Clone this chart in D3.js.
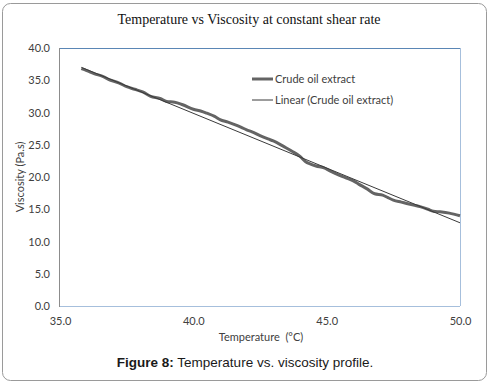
<!DOCTYPE html>
<html>
<head>
<meta charset="utf-8">
<script src="https://cdn.jsdelivr.net/npm/d3@7"></script>
<style>
  body { margin: 0; background: #fff; }
  svg text { fill: #404040; }
</style>
</head>
<body>
<svg id="chart" width="490" height="385"></svg>
<script>
// Crude oil extract: temperature (°C) vs viscosity (Pa.s)
const temps = [35.8, 36.0, 36.3, 36.6, 36.9, 37.2, 37.5, 37.8, 38.1, 38.4, 38.75, 39.0, 39.3, 39.6,
  40.0, 40.3, 40.5, 40.8, 41.0, 41.3, 41.5, 41.8, 42.0, 42.2, 42.5, 42.8, 43.0, 43.4, 43.7,
  44.0, 44.2, 44.4, 44.6, 44.9, 45.1, 45.4, 45.7, 46.0, 46.2, 46.5, 46.8, 47.1, 47.3, 47.5,
  47.8, 48.0, 48.3, 48.5, 48.8, 49.0, 49.25, 49.6, 50.0];
const viscosity = [36.8, 36.5, 36.0, 35.6, 35.0, 34.6, 34.0, 33.6, 33.2, 32.5, 32.2, 31.7, 31.6, 31.2,
  30.5, 30.2, 29.9, 29.4, 28.9, 28.5, 28.2, 27.7, 27.3, 27.0, 26.4, 25.9, 25.6, 24.7, 24.0,
  23.2, 22.4, 22.0, 21.7, 21.4, 21.0, 20.4, 19.9, 19.4, 18.9, 18.2, 17.4, 17.2, 16.8, 16.4,
  16.1, 15.9, 15.6, 15.4, 15.0, 14.7, 14.6, 14.4, 14.0];
// Linear trendline end points (as drawn by the spreadsheet)
const trendTemps = [35.8, 50.0];
const trendVisc = [37.0, 12.9];

const xTicks = [35, 40, 45, 50];
const yTicks = [0, 5, 10, 15, 20, 25, 30, 35, 40];
const seriesNames = ['Crude oil extract', 'Linear (Crude oil extract)'];

const svg = d3.select('#chart');
const plot = { left: 60, top: 48, right: 460, bottom: 306 };

const x = d3.scaleLinear().domain([35, 50]).range([plot.left, plot.right]);
const y = d3.scaleLinear().domain([0, 40]).range([plot.bottom, plot.top]);

// outer frame
svg.append('rect')
  .attr('x', 2.5).attr('y', 3.5)
  .attr('width', 484).attr('height', 377)
  .attr('rx', 8)
  .attr('fill', 'none')
  .attr('stroke', '#9a9a9a');

// title
svg.append('text')
  .attr('x', 249).attr('y', 24)
  .attr('text-anchor', 'middle')
  .style('font-family', '"Liberation Serif", "Times New Roman", serif')
  .style('font-size', '14px')
  .style('fill', '#111')
  .text('Temperature vs Viscosity at constant shear rate');

// plot border
svg.append('line').attr('x1', plot.left).attr('x2', plot.right).attr('y1', plot.top + 0.5).attr('y2', plot.top + 0.5)
  .attr('stroke', '#5a86b5');
svg.append('line').attr('x1', plot.right + 0.5).attr('x2', plot.right + 0.5).attr('y1', plot.top).attr('y2', plot.bottom)
  .attr('stroke', '#a6bfdc');
svg.append('line').attr('x1', plot.left).attr('x2', plot.right).attr('y1', plot.bottom + 0.5).attr('y2', plot.bottom + 0.5)
  .attr('stroke', '#a6bfdc');
svg.append('line').attr('x1', plot.left - 0.5).attr('x2', plot.left - 0.5).attr('y1', plot.top).attr('y2', plot.bottom + 1)
  .attr('stroke', '#8c8c8c');

// axes (labels only)
const yAxis = svg.append('g')
  .attr('transform', `translate(${plot.left},0)`)
  .call(d3.axisLeft(y).tickValues(yTicks).tickFormat(d3.format('.1f')).tickSize(0).tickPadding(10));
const xAxis = svg.append('g')
  .attr('transform', `translate(0,${plot.bottom})`)
  .call(d3.axisBottom(x).tickValues(xTicks).tickFormat(d3.format('.1f')).tickSize(0).tickPadding(11));
[xAxis, yAxis].forEach(g => {
  g.select('.domain').remove();
  g.selectAll('text')
    .style('font-family', 'Lato, "Open Sans", sans-serif')
    .style('font-size', '11px')
    .style('fill', '#404040');
});

// axis titles
svg.append('text')
  .attr('x', 261).attr('y', 341)
  .attr('text-anchor', 'middle')
  .style('font-family', 'Lato, "Open Sans", sans-serif')
  .style('font-size', '11px')
  .style('white-space', 'pre')
  .text('Temperature  (°C)');

svg.append('text')
  .attr('transform', `translate(24,${(plot.top + plot.bottom) / 2}) rotate(-90)`)
  .attr('text-anchor', 'middle')
  .style('font-family', 'Lato, "Open Sans", sans-serif')
  .style('font-size', '11px')
  .text('Viscosity (Pa.s)');

// data series
const data = temps.map((t, i) => ({ t, v: viscosity[i] }));
const trend = trendTemps.map((t, i) => ({ t, v: trendVisc[i] }));
const line = d3.line().x(d => x(d.t)).y(d => y(d.v));

svg.append('path')
  .datum(data)
  .attr('d', line.curve(d3.curveMonotoneX))
  .attr('fill', 'none')
  .attr('stroke', '#646464')
  .attr('stroke-width', 3)
  .attr('stroke-linejoin', 'round');

svg.append('path')
  .datum(trend)
  .attr('d', d3.line().x(d => x(d.t)).y(d => y(d.v)))
  .attr('fill', 'none')
  .attr('stroke', '#3a3a3a')
  .attr('stroke-width', 1);

// legend
const legend = svg.append('g').attr('transform', 'translate(252,79)');
seriesNames.forEach((name, i) => {
  const row = legend.append('g').attr('transform', `translate(0,${i * 21})`);
  row.append('line')
    .attr('x1', 0).attr('x2', 21)
    .attr('stroke', i === 0 ? '#646464' : '#3a3a3a')
    .attr('stroke-width', i === 0 ? 3 : 1);
  row.append('text')
    .attr('x', 23).attr('y', 4)
    .style('font-family', 'Lato, "Open Sans", sans-serif')
    .style('font-size', '11px')
    .text(name);
});

// caption
const caption = svg.append('text')
  .attr('x', 245).attr('y', 367)
  .attr('text-anchor', 'middle')
  .style('font-family', '"Liberation Sans", Arial, sans-serif')
  .style('font-size', '13.5px')
  .style('fill', '#1a1a1a');
caption.append('tspan').style('font-weight', 'bold').text('Figure 8:');
caption.append('tspan').text(' Temperature vs. viscosity profile.');
</script>
</body>
</html>
